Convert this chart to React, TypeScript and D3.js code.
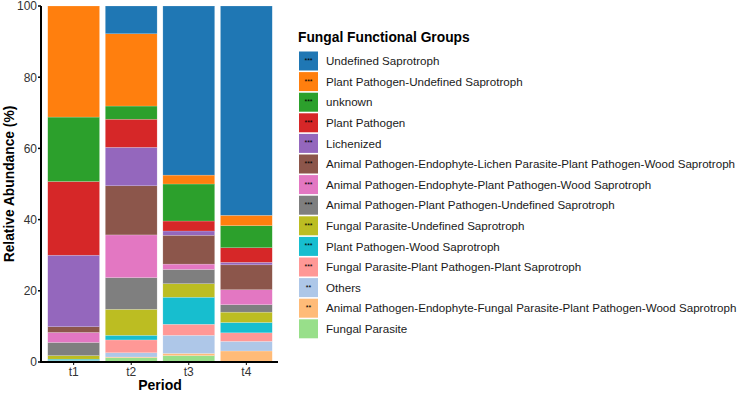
import React from "react";
import * as d3 from "d3";

const periods = ["t1", "t2", "t3", "t4"];
const groups = [
  "Undefined Saprotroph",
  "Plant Pathogen-Undefined Saprotroph",
  "unknown",
  "Plant Pathogen",
  "Lichenized",
  "Animal Pathogen-Endophyte-Lichen Parasite-Plant Pathogen-Wood Saprotroph",
  "Animal Pathogen-Endophyte-Plant Pathogen-Wood Saprotroph",
  "Animal Pathogen-Plant Pathogen-Undefined Saprotroph",
  "Fungal Parasite-Undefined Saprotroph",
  "Plant Pathogen-Wood Saprotroph",
  "Fungal Parasite-Plant Pathogen-Plant Saprotroph",
  "Others",
  "Animal Pathogen-Endophyte-Fungal Parasite-Plant Pathogen-Wood Saprotroph",
  "Fungal Parasite",
];
const stars = ["***", "***", "***", "***", "***", "***", "***", "***", "***", "***", "***", "**", "**", ""];
const colors = [
  "#1f77b4", "#ff7f0e", "#2ca02c", "#d62728", "#9467bd", "#8c564b", "#e377c2",
  "#7f7f7f", "#bcbd22", "#17becf", "#ff9896", "#aec7e8", "#ffbb78", "#98df8a",
];
// values per group (same order as groups), per period t1..t4
const t1 = [0, 31.2, 18.1, 20.7, 20.1, 1.6, 2.8, 3.7, 1.0, 0.4, 0.1, 0.1, 0.1, 0.1];
const t2 = [7.8, 20.3, 3.7, 7.9, 10.8, 13.8, 12.0, 8.9, 7.3, 1.3, 3.6, 1.2, 0.2, 1.2];
const t3 = [47.5, 2.5, 10.4, 2.8, 1.2, 8.1, 1.5, 4.0, 3.8, 7.6, 3.1, 5.1, 0.6, 1.8];
const t4 = [58.8, 2.9, 6.2, 4.1, 0.7, 7.0, 4.2, 2.1, 2.9, 2.9, 2.4, 2.7, 3.1, 0.0];
const yTicks = [0, 20, 40, 60, 80, 100];

export default function App() {
  const W = 740, H = 393;
  const left = 42, right = 278, top = 6, bottom = 362;
  const rows = periods.map((p, i) => {
    const vals = [t1, t2, t3, t4][i];
    const r: any = { period: p };
    groups.forEach((g, j) => (r[g] = vals[j]));
    return r;
  });
  const stackKeys = [...groups].reverse();
  const series = d3.stack().keys(stackKeys)(rows);
  const x = d3.scaleBand().domain(periods).range([left, right]).paddingInner(0.1).paddingOuter(0.1);
  const y = d3.scaleLinear().domain([0, 100]).range([bottom, top]);
  const color = d3.scaleOrdinal<string, string>().domain(groups).range(colors);
  const font = "'Liberation Sans', Arial, sans-serif";
  const legX = 299, legY0 = 51.5, legStep = 20.6, keySize = 19;

  return (
    <svg width={W} height={H} style={{ position: "absolute", left: 0, top: 0, background: "#fff" }} fontFamily={font}>
      {series.map((s) => (
        <g key={s.key} fill={color(s.key)}>
          {s.map((d, i) => (
            <rect
              key={i}
              x={x(periods[i])}
              y={y(d[1])}
              width={x.bandwidth()}
              height={Math.max(0, y(d[0]) - y(d[1]))}
              stroke="#ffffff"
              strokeOpacity={0.35}
              strokeWidth={0.5}
            />
          ))}
        </g>
      ))}
      {/* axes */}
      <line x1={left - 1} x2={left - 1} y1={top} y2={bottom + 1} stroke="#000" strokeWidth={2} />
      <line x1={left - 2} x2={right} y1={bottom} y2={bottom} stroke="#000" strokeWidth={2} />
      {yTicks.map((t) => (
        <g key={t}>
          <line x1={left - 4} x2={left - 1} y1={y(t)} y2={y(t)} stroke="#000" strokeWidth={1.5} />
          <text x={left - 5} y={y(t)} dy="0.36em" textAnchor="end" fontSize={12} fill="#333">
            {t}
          </text>
        </g>
      ))}
      {periods.map((p) => (
        <g key={p}>
          <line x1={x(p)! + x.bandwidth() / 2} x2={x(p)! + x.bandwidth() / 2} y1={bottom} y2={bottom + 3} stroke="#000" />
          <text x={x(p)! + x.bandwidth() / 2} y={bottom + 14} textAnchor="middle" fontSize={12} fill="#333">
            {p}
          </text>
        </g>
      ))}
      <text x={(left + right) / 2} y={390} textAnchor="middle" fontSize={14} fontWeight="bold">
        Period
      </text>
      <text transform={`translate(14,${(top + bottom) / 2}) rotate(-90)`} textAnchor="middle" fontSize={13.8} fontWeight="bold">
        Relative Abundance (%)
      </text>
      {/* legend */}
      <text x={298} y={41.5} fontSize={13.8} fontWeight="bold">
        Fungal Functional Groups
      </text>
      {groups.map((g, i) => {
        const yy = legY0 + i * legStep;
        return (
          <g key={g}>
            <rect x={legX} y={yy} width={keySize} height={keySize} fill={color(g)} />
            <text x={legX + keySize / 2} y={yy + keySize / 2 + 2} textAnchor="middle" fontSize={7} fill="#000">
              {stars[i]}
            </text>
            <text x={326} y={yy + keySize / 2} dy="0.36em" fontSize={11.6} fill="#1a1a1a">
              {g}
            </text>
          </g>
        );
      })}
    </svg>
  );
}
